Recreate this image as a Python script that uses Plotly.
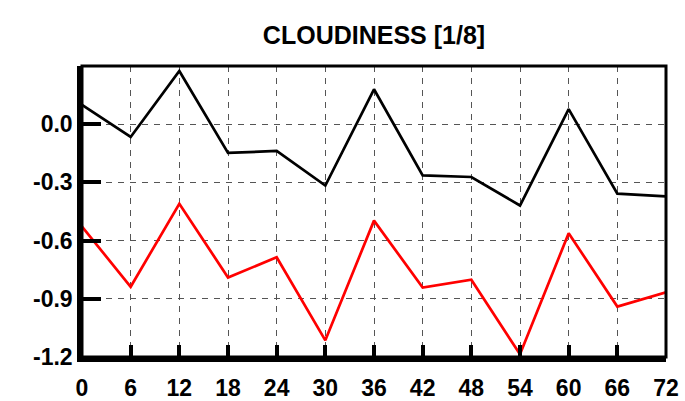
import plotly.graph_objects as go

# Forecast lead time (hours)
hours = [0, 6, 12, 18, 24, 30, 36, 42, 48, 54, 60, 66, 72]

# Cloudiness scores (1/8 units)
series_black = [0.10, -0.066, 0.274, -0.148, -0.138, -0.316, 0.18,
                -0.264, -0.272, -0.419, 0.078, -0.358, -0.372]
series_red = [-0.528, -0.838, -0.41, -0.79, -0.686, -1.114, -0.497,
              -0.842, -0.802, -1.186, -0.562, -0.94, -0.867]

y_tickvals = [0.0, -0.3, -0.6, -0.9, -1.2]
y_ticktext = ["0.0", "-0.3", "-0.6", "-0.9", "-1.2"]
x_tickvals = hours
x_ticktext = [str(h) for h in hours]

FONT = "Liberation Sans, Arial, sans-serif"

fig = go.Figure()
fig.add_trace(go.Scatter(x=hours, y=series_black, mode="lines",
                         line=dict(color="black", width=2.7), showlegend=False))
fig.add_trace(go.Scatter(x=hours, y=series_red, mode="lines",
                         line=dict(color="#ff0000", width=2.7), showlegend=False))

fig.update_layout(
    width=685, height=401,
    margin=dict(l=82, r=19, t=66, b=44, autoexpand=False),
    paper_bgcolor="white", plot_bgcolor="white",
    font=dict(family=FONT, color="black"),
    title=dict(text="CLOUDINESS [1/8]", x=0.5, xref="paper",
               y=1 - 35 / 401, yref="container", xanchor="center", yanchor="middle",
               font=dict(size=25, family=FONT, color="black", weight="bold")),
    xaxis=dict(range=[0, 72], tickmode="array", tickvals=x_tickvals, ticktext=x_ticktext,
               ticks="inside", ticklen=12, tickwidth=4, tickcolor="black",
               showline=True, linewidth=4.5, linecolor="black", mirror=False,
               showgrid=True, gridcolor="#555555", gridwidth=1.3, griddash="6px,6px",
               zeroline=False, automargin=False,
               tickfont=dict(size=23, weight="bold"), ticklabelstandoff=7),
    yaxis=dict(range=[-1.2, 0.3], tickmode="array", tickvals=y_tickvals, ticktext=y_ticktext,
               ticks="inside", ticklen=19, tickwidth=4, tickcolor="black",
               showline=True, linewidth=4.5, linecolor="black", mirror=False,
               showgrid=True, gridcolor="#555555", gridwidth=1.3, griddash="6px,6px",
               zeroline=False, automargin=False,
               tickfont=dict(size=23, weight="bold"), ticklabelstandoff=0),
    shapes=[dict(type="rect", xref="paper", yref="paper", x0=0, x1=1, y0=0, y1=1,
                 line=dict(color="black", width=3), layer="above")],
)

fig.write_html("out.html")
